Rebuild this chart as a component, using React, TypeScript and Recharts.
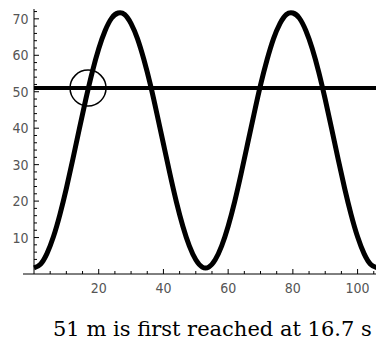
import React from "react";
import {
  LineChart,
  Line,
  XAxis,
  YAxis,
  ReferenceLine,
  ReferenceDot,
} from "recharts";

// height (m) every 2 s
const times = [
  0, 2, 4, 6, 8, 10, 12, 14, 16, 18, 20, 22, 24, 26, 28, 30, 32, 34, 36, 38,
  40, 42, 44, 46, 48, 50, 52, 54, 56, 58, 60, 62, 64, 66, 68, 70, 72, 74, 76,
  78, 80, 82, 84, 86, 88, 90, 92, 94, 96, 98, 100, 102, 104, 106,
];
const heights = [
  1.7, 2.7, 5.6, 10.2, 16.3, 23.5, 31.5, 39.8, 47.9, 55.4, 61.8, 66.8, 70.2,
  71.6, 71.2, 68.7, 64.5, 58.7, 51.8, 43.9, 35.7, 27.5, 19.8, 13.1, 7.7, 3.9,
  1.9, 1.9, 3.9, 7.7, 13.1, 19.8, 27.5, 35.7, 43.9, 51.8, 58.7, 64.5, 68.7,
  71.2, 71.6, 70.2, 66.8, 61.8, 55.4, 47.9, 39.8, 31.5, 23.5, 16.3, 10.2, 5.6,
  2.7, 1.7,
];

const targetHeight = 51;
const firstTime = 16.7;

const xTicks = [5, 10, 15, 20, 25, 30, 35, 40, 45, 50, 55, 60, 65, 70, 75, 80, 85, 90, 95, 100, 105];
const yTicks = [
  0, 2, 4, 6, 8, 10, 12, 14, 16, 18, 20, 22, 24, 26, 28, 30, 32, 34, 36, 38,
  40, 42, 44, 46, 48, 50, 52, 54, 56, 58, 60, 62, 64, 66, 68, 70, 72,
];

const data = times.map((t, i) => ({ t, h: heights[i] }));

const labelFont = "'Liberation Sans Narrow', 'DejaVu Sans Condensed', sans-serif";

const XTick = (props: any) => {
  const { x, y, payload } = props;
  const v = payload.value;
  const major = v % 20 === 0;
  return (
    <g>
      <line x1={x} y1={y} x2={x} y2={y - (major ? 5 : 3)} stroke="#000" strokeWidth={1} />
      {major && (
        <text x={x} y={y + 18.5} textAnchor="middle" fill="#555" fontSize={14} fontFamily={labelFont}>
          {v}
        </text>
      )}
    </g>
  );
};

const YTick = (props: any) => {
  const { x, y, payload } = props;
  const v = payload.value;
  const major = v % 10 === 0 && v > 0;
  if (v === 0) {
    // little stub of the x axis left of the y axis
    return <line x1={x - 11} y1={y} x2={x} y2={y} stroke="#000" strokeWidth={1} />;
  }
  return (
    <g>
      <line x1={x} y1={y} x2={x + (major ? 5 : 3)} y2={y} stroke="#000" strokeWidth={1} />
      {major && (
        <text x={x - 5.5} y={y + 5} textAnchor="end" fill="#555" fontSize={14} fontFamily={labelFont}>
          {v}
        </text>
      )}
    </g>
  );
};

export default function App() {
  return (
    <div
      style={{
        position: "absolute",
        left: 0,
        top: 0,
        width: 376,
        height: 345,
        overflow: "hidden",
        background: "#fff",
      }}
    >
      <LineChart
        width={378}
        height={345}
        data={data}
        margin={{ top: 9, right: 1, bottom: 41, left: 0 }}
      >
        <XAxis
          dataKey="t"
          type="number"
          domain={[0, 106]}
          ticks={xTicks}
          interval={0}
          height={30}
          tickSize={0}
          tickMargin={0}
          tickLine={false}
          axisLine={{ stroke: "#000", strokeWidth: 1 }}
          tick={<XTick />}
        />
        <YAxis
          type="number"
          domain={[0, 72.7]}
          ticks={yTicks}
          interval={0}
          width={34}
          tickSize={0}
          tickMargin={0}
          tickLine={false}
          axisLine={{ stroke: "#000", strokeWidth: 1 }}
          tick={<YTick />}
        />
        <Line
          dataKey="h"
          type="natural"
          stroke="#000"
          strokeWidth={5}
          dot={false}
          isAnimationActive={false}
        />
        <ReferenceLine y={targetHeight} stroke="#000" strokeWidth={4} />
        <ReferenceDot
          x={firstTime}
          y={targetHeight}
          r={18}
          fill="none"
          stroke="#000"
          strokeWidth={1.5}
        />
      </LineChart>
      <div
        style={{
          position: "absolute",
          left: 53,
          top: 317,
          whiteSpace: "nowrap",
          fontFamily: "'DejaVu Serif', serif",
          fontSize: 21,
          color: "#000",
        }}
      >
        {targetHeight} m is first reached at {firstTime} s
      </div>
    </div>
  );
}
